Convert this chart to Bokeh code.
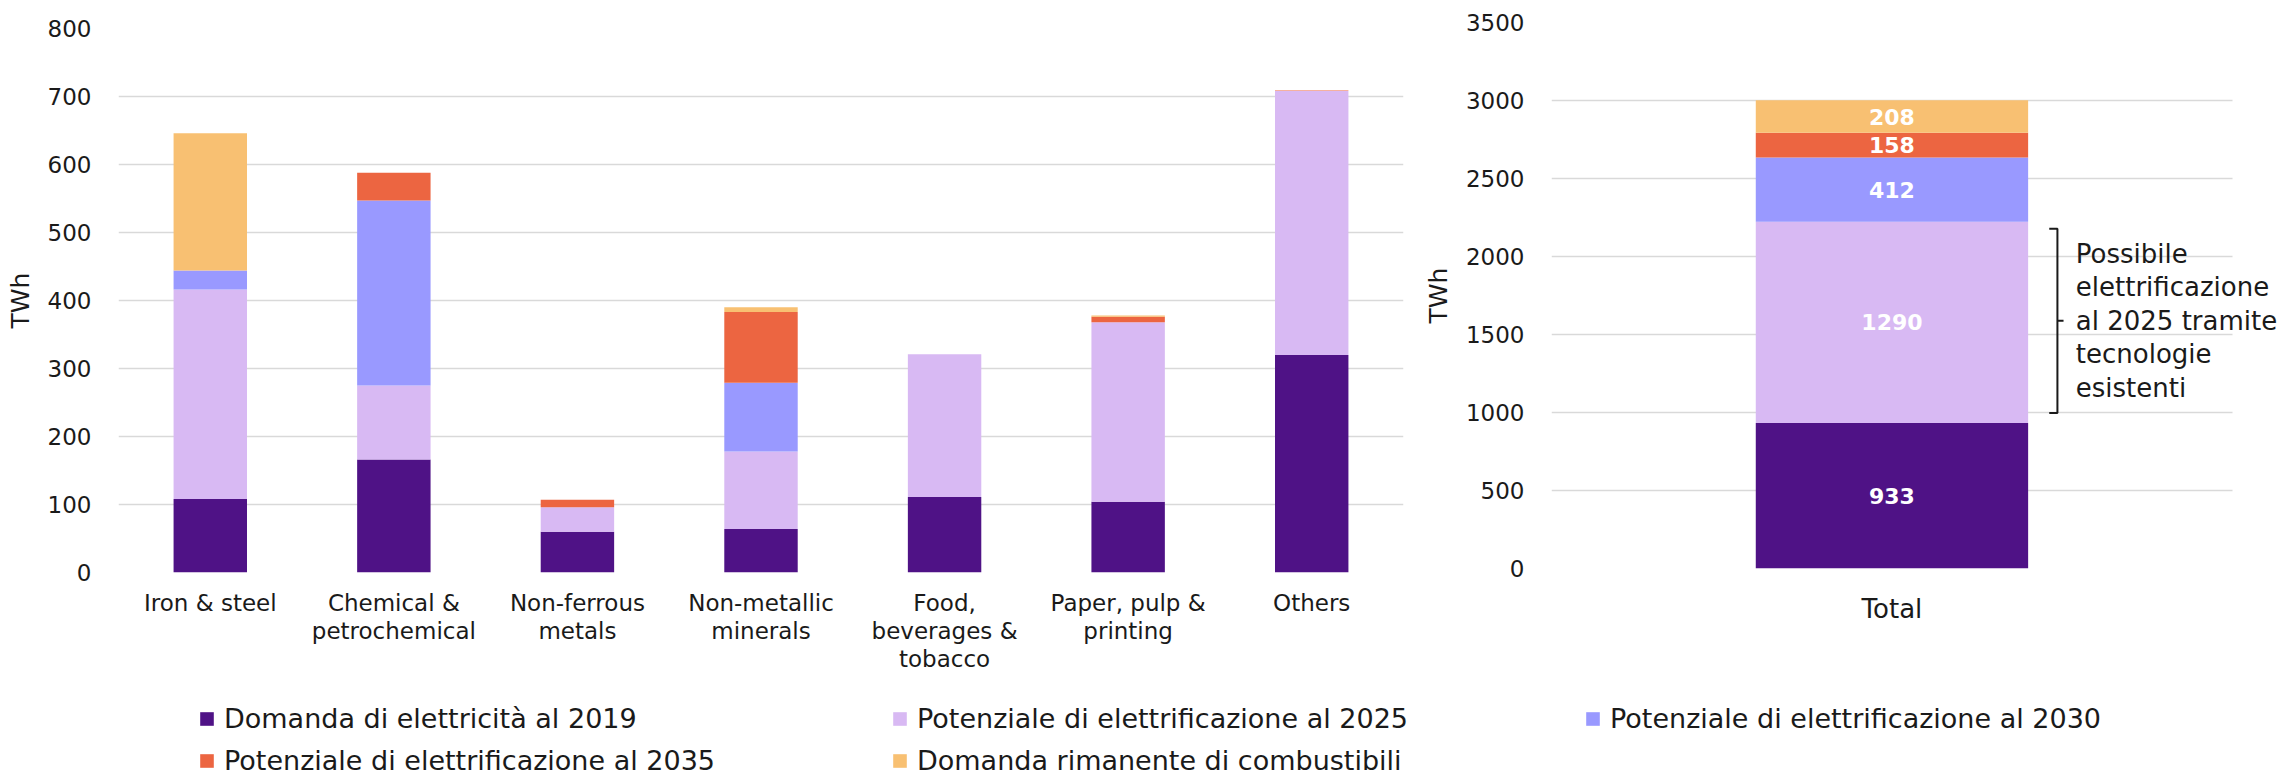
from bokeh.plotting import figure
from bokeh.models import (ColumnDataSource, FactorRange, Range1d, SingleIntervalTicker,
                          FixedTicker, Legend, LegendItem, Label)
from bokeh.layouts import row, column
from bokeh.core.properties import value
from bokeh.embed import file_html
from bokeh.resources import INLINE

# ---------------- data ----------------
sectors = ["Iron & steel", "Chemical &\npetrochemical", "Non-ferrous\nmetals",
           "Non-metallic\nminerals", "Food,\nbeverages &\ntobacco",
           "Paper, pulp &\nprinting", "Others"]
demand_2019 = [108, 166, 60, 64, 111, 104, 320]
potential_2025 = [308, 109, 36, 114, 210, 264, 388]
potential_2030 = [28, 272, 0, 101, 0, 0, 0]
potential_2035 = [0, 41, 11, 104, 0, 8, 1]
remaining_fuels = [202, 0, 0, 7, 0, 2, 0]

total_category = ["Total"]
total_values = [933, 1290, 412, 158, 208]

series_names = ["Domanda di elettricità al 2019",
                "Potenziale di elettrificazione al 2025",
                "Potenziale di elettrificazione al 2030",
                "Potenziale di elettrificazione al 2035",
                "Domanda rimanente di combustibili"]
series_keys = ["d2019", "p2025", "p2030", "p2035", "rem"]
colors = ["#4F1286", "#D8B9F3", "#9999FF", "#EC6541", "#F8C072"]

annotation_text = "Possibile\nelettrificazione\nal 2025 tramite\ntecnologie\nesistenti"

FONT = "DejaVu Sans"
TXT = "#1a1a1a"
GRID = "#D9D9D9"


def style(p, tick_interval):
    p.outline_line_color = None
    p.xgrid.grid_line_color = None
    p.ygrid.grid_line_color = GRID
    p.ygrid.grid_line_width = 1.5
    p.yaxis.ticker = SingleIntervalTicker(interval=tick_interval)
    for ax in (p.xaxis[0], p.yaxis[0]):
        ax.axis_line_color = None
        ax.major_tick_line_color = None
        ax.minor_tick_line_color = None
        ax.major_tick_out = 0
        ax.major_tick_in = 0
        ax.major_label_text_font = FONT
        ax.major_label_text_color = TXT
        ax.axis_label_text_font = FONT
        ax.axis_label_text_font_style = "normal"
        ax.axis_label_text_color = TXT
    p.yaxis.major_label_text_font_size = "23px"
    p.yaxis.major_label_standoff = 23
    p.yaxis.axis_label = "TWh"
    p.yaxis.axis_label_text_font_size = "25px"
    p.yaxis.axis_label_standoff = 10


# ---------------- left chart ----------------
src_left = ColumnDataSource(dict(sector=sectors, d2019=demand_2019, p2025=potential_2025,
                                 p2030=potential_2030, p2035=potential_2035,
                                 rem=remaining_fuels))
pL = figure(x_range=FactorRange(*sectors), y_range=Range1d(0, 800), title=None,
            width=1420, height=690, output_backend="svg", toolbar_location=None,
            min_border_left=118, min_border_right=17, min_border_top=28,
            min_border_bottom=118)
pL.vbar_stack(series_keys, x="sector", width=0.4, color=colors, line_color=None,
              source=src_left)
style(pL, 100)
pL.xaxis.major_label_text_font_size = "23px"
pL.xaxis.major_label_text_line_height = 1.08
pL.xaxis.major_label_standoff = 17

# ---------------- right chart ----------------
# one slot per category (slot width 1), extra room on the right for the note
total_pos = [i + 0.5 for i in range(len(total_category))]
src_right = ColumnDataSource(dict(x=total_pos,
                                  **{k: [v] for k, v in zip(series_keys, total_values)}))
pR = figure(x_range=Range1d(0, len(total_category) * 749 / 692), y_range=Range1d(0, 3500),
            title=None, width=868, height=690, output_backend="svg",
            toolbar_location=None,
            min_border_left=119, min_border_right=0, min_border_top=22,
            min_border_bottom=122)
pR.vbar_stack(series_keys, x="x", width=0.4, color=colors, line_color=None,
              source=src_right)
style(pR, 500)
pR.ygrid.cross_bounds = (0, len(total_category))
pR.xaxis.ticker = FixedTicker(ticks=total_pos)
pR.xaxis.major_label_overrides = {p: c for p, c in zip(total_pos, total_category)}
pR.xaxis.major_label_text_font_size = "26px"
pR.xaxis.major_label_standoff = 25

bottoms = []
acc = 0
for v in total_values:
    bottoms.append(acc)
    acc += v
mids = [b + v / 2 for b, v in zip(bottoms, total_values)]
src_vals = ColumnDataSource(dict(x=total_pos * len(total_values), y=mids,
                                 label=[str(v) for v in total_values]))
pR.text(x="x", y="y", text="label", source=src_vals, text_font=value(FONT),
        text_font_style="bold", text_font_size="22px", text_color="white",
        text_align="center", text_baseline="middle")

# bracket around the 2025 potential
lo = total_values[0] + 0.05 * total_values[1]
hi = total_values[0] + 0.965 * total_values[1]
mid = (lo + hi) / 2
xb = total_pos[0] + 0.243
bracket = ColumnDataSource(dict(x=[xb - 0.012, xb, xb, xb + 0.009, xb, xb, xb - 0.012],
                                y=[hi, hi, mid, mid, mid, lo, lo]))
pR.line(x="x", y="y", source=bracket, line_color="#1a1a1a", line_width=2)
pR.add_layout(Label(x=xb + 0.027, y=mid, text=annotation_text, text_font=FONT,
                    text_font_size="26px", text_color=TXT, text_align="left",
                    text_baseline="middle", text_line_height=1.12))

# ---------------- legend ----------------
pLeg = figure(width=2288, height=86, output_backend="svg", toolbar_location=None,
              x_range=Range1d(0, 1), y_range=Range1d(0, 1), title=None,
              min_border_left=198, min_border_top=7, min_border_right=0,
              min_border_bottom=0)
pLeg.axis.visible = False
pLeg.grid.visible = False
pLeg.outline_line_color = None
items = []
for name, c in zip(series_names, colors):
    r = pLeg.vbar(x=[0.5], top=[0], bottom=[0], width=0, fill_color=c, line_color=None)
    items.append(LegendItem(label=name, renderers=[r]))
legend = Legend(items=items, location="top_left", orientation="horizontal", ncols=3,
                glyph_width=17, glyph_height=17, label_standoff=9, label_width=667,
                label_height=42, spacing=0, padding=0, margin=0,
                border_line_color=None, background_fill_alpha=0,
                label_text_font=FONT, label_text_font_size="27px",
                label_text_color=TXT)
pLeg.add_layout(legend)

layout = column(row(pL, column(pR)), pLeg)
open("out.html", "w").write(file_html(layout, INLINE))
